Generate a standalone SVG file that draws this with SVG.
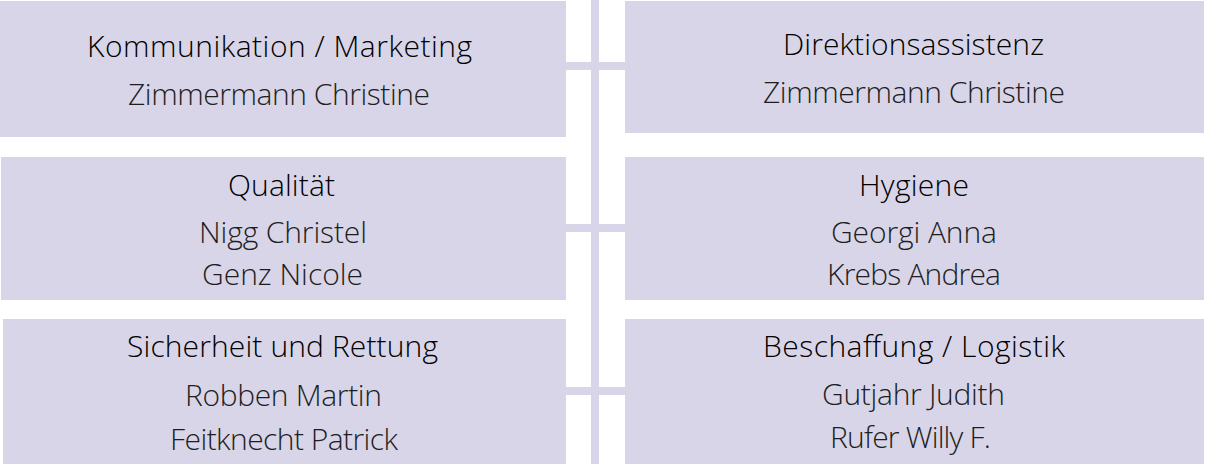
<svg xmlns="http://www.w3.org/2000/svg" width="1206" height="464" viewBox="0 0 1206 464">
<style>
.box{fill:#d8d5e8;}
.con{fill:#d8d5e8;}
.t{font-family:"Open Sans","Noto Sans","Liberation Sans",sans-serif;font-size:30px;font-weight:300;fill:#000000;}
.n{font-family:"Open Sans","Noto Sans","Liberation Sans",sans-serif;font-size:30px;font-weight:300;fill:#1e1e1e;}
</style>
<rect width="1206" height="464" fill="#ffffff"/>
<g id="connectors">
<rect class="con" x="591" y="0" width="8" height="464"/>
<rect class="con" x="566" y="62" width="59" height="8"/>
<rect class="con" x="566" y="224" width="59" height="8"/>
<rect class="con" x="566" y="387" width="59" height="8"/>
</g>
<g id="kommunikation">
<rect class="box" x="0" y="1" width="566" height="136"/>
<text class="t" x="87" y="57" textLength="385">Kommunikation / Marketing</text>
<text class="n" x="128" y="105" textLength="302">Zimmermann Christine</text>
</g>
<g id="direktionsassistenz">
<rect class="box" x="625" y="1" width="579" height="132"/>
<text class="t" x="783" y="55" textLength="261">Direktionsassistenz</text>
<text class="n" x="763" y="103" textLength="302">Zimmermann Christine</text>
</g>
<g id="qualitaet">
<rect class="box" x="1" y="157" width="565" height="143"/>
<text class="t" x="228" y="196" textLength="107">Qualität</text>
<text class="n" x="199" y="243" textLength="168">Nigg Christel</text>
<text class="n" x="202" y="285" textLength="161">Genz Nicole</text>
</g>
<g id="hygiene">
<rect class="box" x="625" y="157" width="579" height="143"/>
<text class="t" x="914" y="196" text-anchor="middle" textLength="110">Hygiene</text>
<text class="n" x="914" y="243" text-anchor="middle" textLength="166">Georgi Anna</text>
<text class="n" x="914" y="285" text-anchor="middle" textLength="174">Krebs Andrea</text>
</g>
<g id="sicherheit">
<rect class="box" x="3" y="319" width="563" height="145"/>
<text class="t" x="127" y="357" textLength="311">Sicherheit und Rettung</text>
<text class="n" x="185" y="406" textLength="197">Robben Martin</text>
<text class="n" x="170" y="450" textLength="228">Feitknecht Patrick</text>
</g>
<g id="beschaffung">
<rect class="box" x="625" y="319" width="579" height="145"/>
<text class="t" x="763" y="357" textLength="302">Beschaffung / Logistik</text>
<text class="n" x="822" y="405" textLength="183">Gutjahr Judith</text>
<text class="n" x="830" y="448" textLength="161">Rufer Willy F.</text>
</g>
</svg>
